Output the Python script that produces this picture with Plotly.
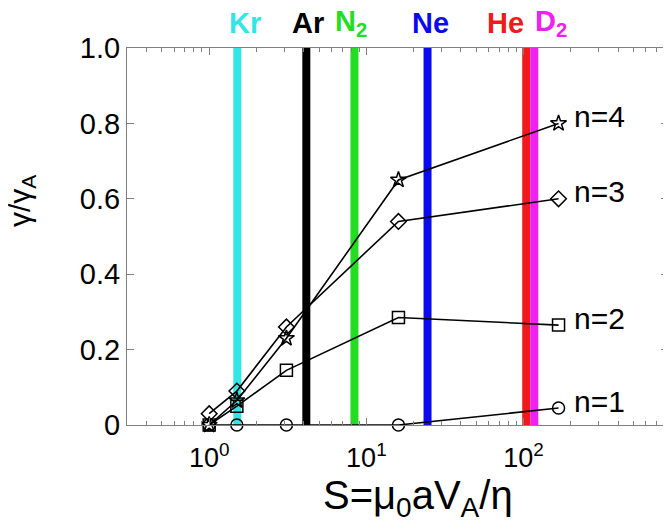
import math
import plotly.graph_objects as go

# ---- data ----
S_values = [1.0, 1.5, 3.1, 16.0, 167.0]
series_names = ["n=1", "n=2", "n=3", "n=4"]
n1 = [0.0, 0.0, 0.0, 0.0, 0.045]
n2 = [0.0, 0.05, 0.145, 0.285, 0.265]
n3 = [0.03, 0.09, 0.26, 0.54, 0.60]
n4 = [0.0, 0.065, 0.23, 0.65, 0.80]
series_values = [n1, n2, n3, n4]

gas_names = ["Kr", "Ar", "N<sub>2</sub>", "Ne", "He", "D<sub>2</sub>"]
gas_S = [1.51, 4.15, 8.4, 24.5, 104.0, 117.0]

x_tick_vals = [1, 10, 100]
x_tick_text = ["10<sup>0</sup>", "10<sup>1</sup>", "10<sup>2</sup>"]
y_tick_vals = [0, 0.2, 0.4, 0.6, 0.8, 1.0]
y_tick_text = ["0", "0.2", "0.4", "0.6", "0.8", "1.0"]

# ---- styles ----
gas_colors = ["#33e6e6", "#000000", "#22dd22", "#0a0af0", "#f01a1a", "#f020f0"]
gas_label_shift = [8, 2, -3, 3, -21, 17]
markers = ["circle-open", "square-open", "diamond-open", "star-open"]
FONT = "Liberation Sans, Arial, sans-serif"

fig = go.Figure()

for name, s, c in zip(gas_names, gas_S, gas_colors):
    fig.add_trace(go.Scatter(
        x=[s, s], y=[0, 1], mode="lines",
        line=dict(color=c, width=8), hoverinfo="skip", showlegend=False))

for name, vals, m in zip(series_names, series_values, markers):
    fig.add_trace(go.Scatter(
        x=S_values, y=vals, mode="lines+markers", name=name,
        line=dict(color="black", width=1.6),
        marker=dict(symbol=m, size=12, color="black", line=dict(width=1.5, color="black")),
        cliponaxis=False, showlegend=False))

annotations = []
for name, s, c, dx in zip(gas_names, gas_S, gas_colors, gas_label_shift):
    annotations.append(dict(
        x=math.log10(s), y=1.066, xref="x", yref="paper", text="<b>%s</b>" % name,
        showarrow=False, xshift=dx, font=dict(family=FONT, size=29, color=c),
        xanchor="center", yanchor="middle"))

for name, vals in zip(series_names, series_values):
    annotations.append(dict(
        x=math.log10(S_values[-1]), y=vals[-1], xref="x", yref="y", text=name,
        showarrow=False, xanchor="left", yanchor="middle", xshift=13, yshift=7,
        font=dict(family=FONT, size=30, color="black")))

# axis titles
annotations.append(dict(
    x=0.538, y=-0.194, xref="paper", yref="paper",
    text="S=\u03bc<sub>0</sub>aV<sub>A</sub>/\u03b7", showarrow=False,
    xanchor="center", yanchor="middle", font=dict(family=FONT, size=40, color="black")))
annotations.append(dict(
    x=-0.196, y=0.594, xref="paper", yref="paper",
    text="\u03b3/\u03b3<sub>A</sub>", showarrow=False, textangle=-90,
    xanchor="center", yanchor="middle", font=dict(family=FONT, size=30, color="black")))

minor_vals = []
for d in [0.1, 1, 10, 100]:
    for k in range(2, 10):
        minor_vals.append(k * d)

fig.update_layout(
    width=663, height=523,
    margin=dict(l=119, r=3, t=40, b=106),
    paper_bgcolor="white", plot_bgcolor="white",
    font=dict(family=FONT, size=26, color="black"),
    annotations=annotations,
    xaxis=dict(
        type="log", range=[math.log10(0.3), math.log10(830)],
        tickvals=x_tick_vals, ticktext=x_tick_text,
        ticks="inside", ticklen=7, tickcolor="#808080", tickwidth=1,
        showline=True, linecolor="#808080", linewidth=1, mirror="ticks",
        showgrid=False, zeroline=False, ticklabelstandoff=9,
        tickfont=dict(family=FONT, size=27, color="black"),
        minor=dict(tickvals=minor_vals, ticks="inside", ticklen=4,
                   tickcolor="#808080", showgrid=False),
    ),
    yaxis=dict(
        range=[0, 1],
        tickvals=y_tick_vals, ticktext=y_tick_text,
        ticks="inside", ticklen=7, tickcolor="#808080", tickwidth=1,
        showline=True, linecolor="#808080", linewidth=1, mirror="ticks",
        showgrid=False, zeroline=False,
        tickfont=dict(family=FONT, size=29, color="black"),
    ),
)

fig.write_html("out.html")
